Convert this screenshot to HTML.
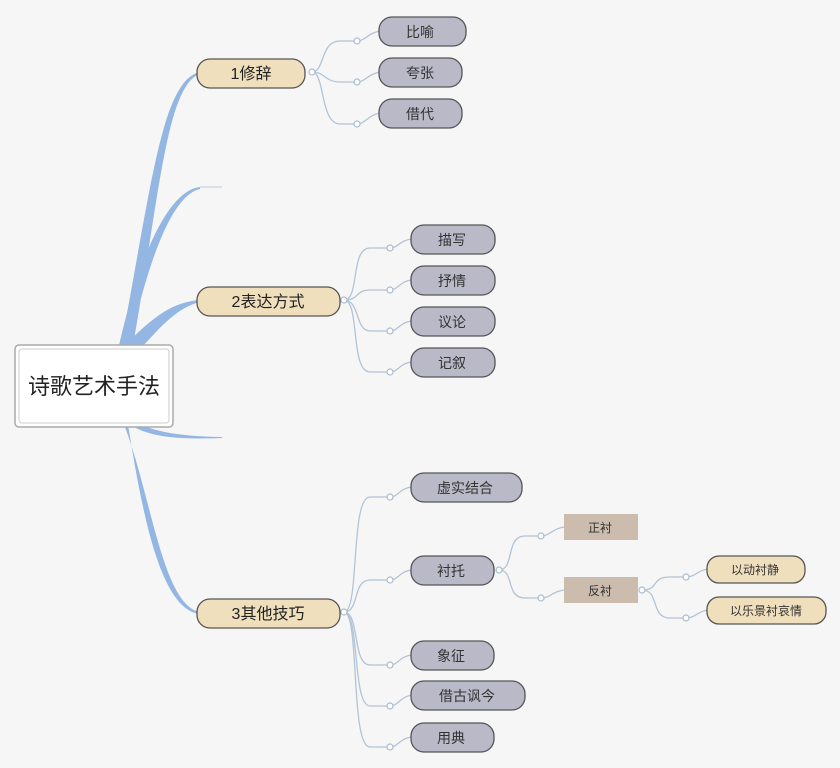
<!DOCTYPE html>
<html><head><meta charset="utf-8"><style>
body{margin:0;background:#f6f6f6;}
svg{display:block}
text{font-family:"Liberation Sans","Noto Sans CJK SC",sans-serif;}
</style></head><body>
<svg width="840" height="768" viewBox="0 0 840 768" xmlns="http://www.w3.org/2000/svg">
<rect width="840" height="768" fill="#f6f6f6"/>
<!-- main thick branches -->
<g fill="#93b6e2">
<path d="M118,360 C150,200 160,80 200,72 L200,74 C165,85 158,210 130,362 Z"/>
<path d="M118,350 C140,250 170,190 200,187 L200,189 C172,195 148,260 128,352 Z"/>
<path d="M120,350 C150,320 170,302 200,300 L200,302 C175,308 158,330 132,358 Z"/>
<path d="M118,410 C140,430 170,436 222,437 L222,438 C170,440 140,436 122,418 Z"/>
<path d="M118,410 C150,480 160,605 200,612 L200,614 C158,610 140,500 126,412 Z"/>
</g>
<g stroke="#b8cde0" stroke-width="1" fill="none">
<path d="M200,187 L222,187"/>
</g>
<!-- thin connectors -->
<g stroke="#b2c4d6" stroke-width="1.3" fill="none">
<path d="M312,72 C325,72 320,41 340,41 L357,41 C365,41 368,33 380,31"/>
<path d="M312,72 C325,72 325,82 340,82 L357,82 C365,82 368,74 380,72"/>
<path d="M312,72 C325,72 320,124 340,124 L357,124 C365,124 368,115 380,113"/>
<path d="M344,300 C360,300 350,248 370,248 L390,248 C398,248 400,240 412,239"/>
<path d="M344,300 C360,300 355,290 370,290 L390,290 C398,290 400,281 412,280"/>
<path d="M344,300 C360,300 355,331 370,331 L390,331 C398,331 400,322 412,321"/>
<path d="M344,300 C360,300 350,372 370,372 L390,372 C398,372 400,363 412,362"/>
<path d="M344,612 C360,612 350,497 370,497 L390,497 C398,497 400,488 412,487"/>
<path d="M344,612 C360,612 352,580 370,580 L390,580 C398,580 400,571 412,570"/>
<path d="M344,612 C360,612 352,665 370,665 L390,665 C398,665 400,656 412,655"/>
<path d="M344,612 C360,612 352,706 370,706 L390,706 C398,706 400,697 412,695"/>
<path d="M344,612 C360,612 350,747 370,747 L390,747 C398,747 400,738 412,737"/>
<path d="M499,570 C515,570 505,536 525,536 L541,536 C550,536 553,528 565,527"/>
<path d="M499,570 C515,570 505,598 525,598 L541,598 C550,598 553,591 565,590"/>
<path d="M642,590 C660,590 650,577 670,577 L686,577 C695,577 698,570 708,569"/>
<path d="M642,590 C660,590 650,618 670,618 L686,618 C695,618 698,611 708,610"/>
</g>
<g fill="#fff" stroke="#a9bccf" stroke-width="1.2">
<circle cx="312" cy="72" r="3"/><circle cx="357" cy="41" r="3"/><circle cx="357" cy="82" r="3"/><circle cx="357" cy="124" r="3"/>
<circle cx="344" cy="300" r="3"/><circle cx="390" cy="248" r="3"/><circle cx="390" cy="290" r="3"/><circle cx="390" cy="331" r="3"/><circle cx="390" cy="372" r="3"/>
<circle cx="344" cy="612" r="3"/><circle cx="390" cy="497" r="3"/><circle cx="390" cy="580" r="3"/><circle cx="390" cy="665" r="3"/><circle cx="390" cy="706" r="3"/><circle cx="390" cy="747" r="3"/>
<circle cx="499" cy="570" r="3"/><circle cx="541" cy="536" r="3"/><circle cx="541" cy="598" r="3"/>
<circle cx="642" cy="590" r="3"/><circle cx="686" cy="577" r="3"/><circle cx="686" cy="618" r="3"/>
</g>
<!-- central node -->
<rect x="15" y="345" width="158" height="82" rx="4" fill="#fff" stroke="#aaa" stroke-width="1.5"/>
<rect x="19" y="349" width="150" height="74" rx="3" fill="#fff" stroke="#ccc" stroke-width="1"/>
<text x="94" y="394" font-size="22" text-anchor="middle" fill="#222">诗歌艺术手法</text>
<!-- tan clouds -->
<g fill="#f0dfbd" stroke="#555" stroke-width="1.3">
<rect x="197" y="59" width="108" height="29" rx="13"/>
<rect x="197" y="287" width="143" height="29" rx="13"/>
<rect x="197" y="599" width="143" height="29" rx="13"/>
<rect x="707" y="556" width="98" height="27" rx="12"/>
<rect x="707" y="597" width="119" height="27" rx="12"/>
</g>
<!-- grey clouds -->
<g fill="#b9b9c8" stroke="#555" stroke-width="1.3">
<rect x="379" y="17" width="87" height="29" rx="13"/>
<rect x="379" y="58" width="83" height="29" rx="13"/>
<rect x="379" y="99" width="83" height="29" rx="13"/>
<rect x="411" y="225" width="84" height="29" rx="13"/>
<rect x="411" y="266" width="84" height="29" rx="13"/>
<rect x="411" y="307" width="84" height="29" rx="13"/>
<rect x="411" y="348" width="84" height="29" rx="13"/>
<rect x="411" y="473" width="111" height="29" rx="13"/>
<rect x="411" y="556" width="83" height="29" rx="13"/>
<rect x="411" y="641" width="83" height="29" rx="13"/>
<rect x="411" y="681" width="114" height="29" rx="13"/>
<rect x="411" y="723" width="83" height="29" rx="13"/>
</g>
<!-- scribble nodes -->
<g fill="#cbbcae">
<rect x="564" y="514" width="74" height="26"/>
<rect x="564" y="577" width="74" height="26"/>
</g>
<g font-size="16" fill="#222" text-anchor="middle">
<text x="251" y="79">1修辞</text>
<text x="268" y="307">2表达方式</text>
<text x="268" y="619">3其他技巧</text>
</g>
<g font-size="14" fill="#333" text-anchor="middle">
<text x="420" y="37">比喻</text>
<text x="420" y="78">夸张</text>
<text x="420" y="119">借代</text>
<text x="452" y="245">描写</text>
<text x="452" y="286">抒情</text>
<text x="452" y="327">议论</text>
<text x="452" y="368">记叙</text>
<text x="465" y="493">虚实结合</text>
<text x="451" y="576">衬托</text>
<text x="451" y="661">象征</text>
<text x="467" y="701">借古讽今</text>
<text x="451" y="743">用典</text>
</g>
<g font-size="12" fill="#333" text-anchor="middle">
<text x="600" y="532">正衬</text>
<text x="600" y="595">反衬</text>
<text x="755" y="574">以动衬静</text>
<text x="766" y="615">以乐景衬哀情</text>
</g>
</svg>
</body></html>
